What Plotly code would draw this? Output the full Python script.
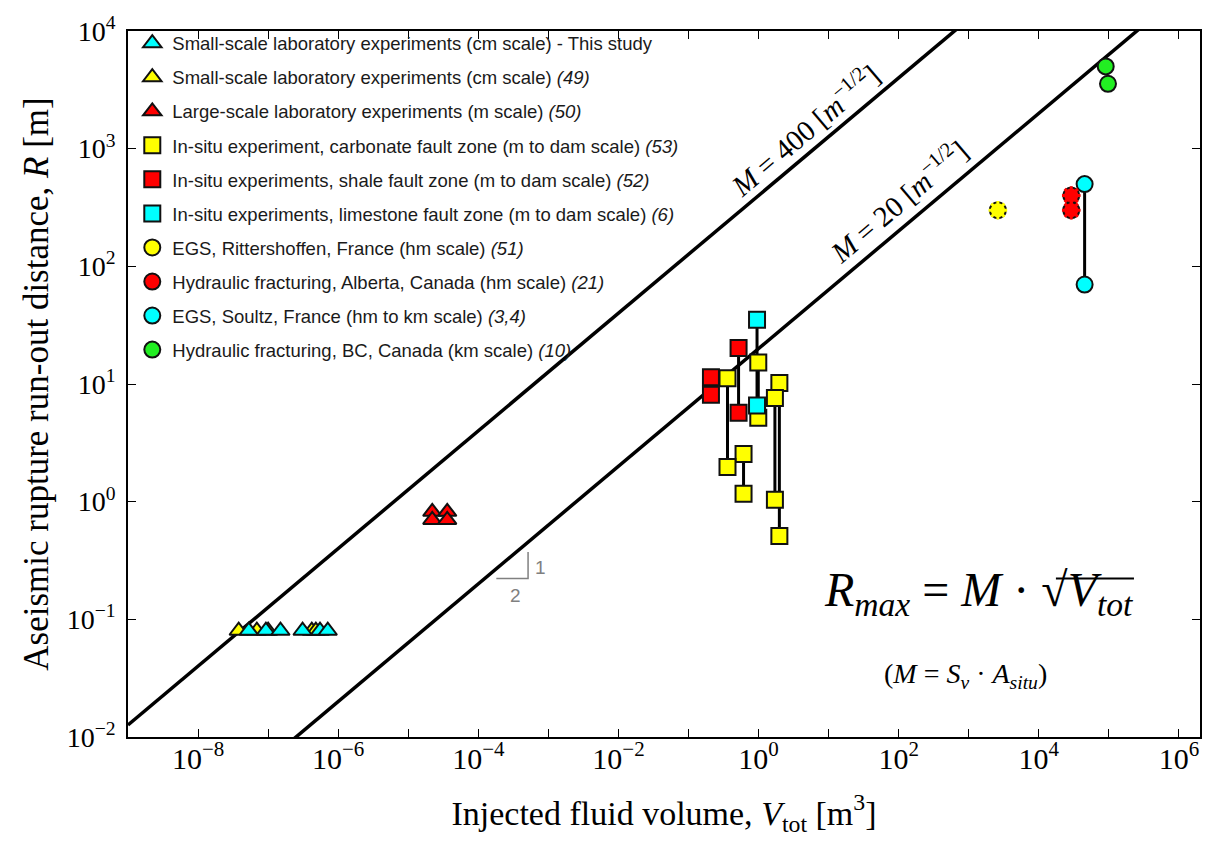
import plotly.graph_objects as go

# ---------------- data ----------------
this_study_V = [5.3e-8, 9.3e-8, 1.5e-7, 3.1e-7, 5.5e-7, 7.1e-7]
this_study_R = [0.08, 0.08, 0.08, 0.08, 0.08, 0.08]

lab49_V = [3.8e-8, 6.9e-8, 1.0e-7, 4.2e-7, 4.8e-7]
lab49_R = [0.08, 0.08, 0.08, 0.08, 0.08]

lab50_V = [2.2e-5, 2.2e-5, 3.6e-5, 3.6e-5]
lab50_R = [0.82, 0.70, 0.82, 0.70]

carb_V = [0.36, 0.99, 0.61, 1.98, 1.71]
carb_R_high = [11.2, 15.2, 2.54, 10.2, 7.6]
carb_R_low = [1.97, 5.16, 1.17, 0.51, 1.04]

shale_V = [0.209, 0.518]
shale_R_high = [11.4, 20.2]
shale_R_low = [8.1, 5.69]

lime_V = [0.95]
lime_R_high = [35.2]
lime_R_low = [6.55]

ritter_V = [2600]
ritter_R = [300]

alberta_V = [2.9e4, 2.9e4]
alberta_R = [400, 300]

soultz_V = [4.5e4]
soultz_R_high = [500]
soultz_R_low = [70]

bc_V = [9.0e4, 9.7e4]
bc_R = [5000, 3560]

M_values = [400, 20]
M_label_pos = [(0.653, 3.165), (1.994, 2.56)]   # log10 positions of the line labels

x_range_log = [-9, 6.3]
y_range_log = [-2, 4]

# slope triangle (log10 coordinates)
slope_x_log = [-3.743, -3.29, -3.29]
slope_y_log = [-0.652, -0.652, -0.427]

labels = [
    "Small-scale laboratory experiments (cm scale) - This study",
    "Small-scale laboratory experiments (cm scale) <i>(49)</i>",
    "Large-scale laboratory experiments (m scale) <i>(50)</i>",
    "In-situ experiment, carbonate fault zone (m to dam scale) <i>(53)</i>",
    "In-situ experiments, shale fault zone (m to dam scale) <i>(52)</i>",
    "In-situ experiments, limestone fault zone (m to dam scale) <i>(6)</i>",
    "EGS, Rittershoffen, France (hm scale) <i>(51)</i>",
    "Hydraulic fracturing, Alberta, Canada (hm scale) <i>(21)</i>",
    "EGS, Soultz, France (hm to km scale) <i>(3,4)</i>",
    "Hydraulic fracturing, BC, Canada (km scale) <i>(10)</i>",
]

CYAN = "#00FFFF"
YELLOW = "#FFFF00"
RED = "#FF0000"
GREEN = "#22EE22"
EDGE = "#111111"
SERIF = "Liberation Serif, Times New Roman, serif"
SANS = "Liberation Sans, Arial, sans-serif"


def pair_xy(V, hi, lo):
    xs, ys = [], []
    for v, h, l in zip(V, hi, lo):
        xs += [v, v, None]
        ys += [h, l, None]
    return xs, ys


fig = go.Figure()

# model lines R = M * sqrt(V)
x_end = [10 ** x_range_log[0], 10 ** x_range_log[1]]
for M in M_values:
    fig.add_trace(go.Scatter(x=x_end, y=[M * v ** 0.5 for v in x_end], mode="lines",
                             line=dict(color="black", width=3.5), showlegend=False,
                             hoverinfo="skip"))

# slope triangle
fig.add_trace(go.Scatter(x=[10 ** v for v in slope_x_log], y=[10 ** v for v in slope_y_log],
                         mode="lines", line=dict(color="#808080", width=1.5),
                         showlegend=False, hoverinfo="skip"))

# connecting lines for pairs
lx, ly = [], []
for V, hi, lo in [(carb_V, carb_R_high, carb_R_low), (shale_V, shale_R_high, shale_R_low),
                  (lime_V, lime_R_high, lime_R_low), (soultz_V, soultz_R_high, soultz_R_low)]:
    a, b = pair_xy(V, hi, lo)
    lx += a
    ly += b
fig.add_trace(go.Scatter(x=lx, y=ly, mode="lines", line=dict(color="black", width=3),
                         showlegend=False, hoverinfo="skip"))


def mk(symbol, color, size, lw=2):
    return dict(symbol=symbol, color=color, size=size, line=dict(color=EDGE, width=lw))


def both(V, hi, lo):
    return list(V) + list(V), list(hi) + list(lo)


cx, cy = both(carb_V, carb_R_high, carb_R_low)
sx, sy = both(shale_V, shale_R_high, shale_R_low)
lmx, lmy = both(lime_V, lime_R_high, lime_R_low)
sox, soy = both(soultz_V, soultz_R_high, soultz_R_low)

traces = [
    # (x, y, marker, label index)
    (cx, cy, mk("square", YELLOW, 16), 3),
    (sx, sy, mk("square", RED, 16), 4),
    (lmx, lmy, mk("square", CYAN, 16), 5),
    (lab49_V, lab49_R, mk("triangle-up", YELLOW, 16), 1),
    (this_study_V, this_study_R, mk("triangle-up", CYAN, 16), 0),
    (lab50_V, lab50_R, mk("triangle-up", RED, 16), 2),
    (ritter_V, ritter_R, mk("circle", YELLOW, 16), 6),
    (alberta_V, alberta_R, mk("circle", RED, 16), 7),
    (sox, soy, mk("circle", CYAN, 16), 8),
    (bc_V, bc_R, mk("circle", GREEN, 16), 9),
]
for x, y, marker, li in traces:
    fig.add_trace(go.Scatter(x=x, y=y, mode="markers", marker=marker, name=labels[li],
                             legendrank=li + 1, legendgroup=f"g{li}", showlegend=True))

# dashed-looking outlines for Rittershoffen / Alberta
for V, R, col in [(ritter_V, ritter_R, YELLOW), (alberta_V, alberta_R, RED)]:
    fig.add_trace(go.Scatter(x=V, y=R, mode="markers",
                             marker=dict(symbol="asterisk-open", size=15.5, color=col,
                                         line=dict(color=col, width=3)),
                             showlegend=False, hoverinfo="skip"))


def sup(k):
    return str(k).replace("-", "\u2212")


xt = list(range(-9, 7))
yt = list(range(-2, 5))

axis_common = dict(type="log", ticks="inside", ticklen=8, tickwidth=1, tickcolor="black",
                   showline=True, linecolor="black", linewidth=1.5, mirror="ticks",
                   showgrid=False, zeroline=False)

fig.update_xaxes(range=x_range_log, tickvals=[10 ** k for k in xt],
                 ticktext=[f"10<sup>{sup(k)}</sup>" if k % 2 == 0 else "" for k in xt],
                 ticklabelstandoff=-6,
                 tickfont=dict(family=SERIF, size=30, color="black"),
                 title=dict(text="Injected fluid volume, <i>V</i><sub>tot</sub> [m<sup>3</sup>]",
                            font=dict(family=SERIF, size=34, color="black"), standoff=27),
                 **axis_common)
fig.update_yaxes(range=y_range_log, tickvals=[10 ** k for k in yt],
                 ticktext=[f"10<sup>{sup(k)}</sup>" for k in yt],
                 ticklabelstandoff=5,
                 tickfont=dict(family=SERIF, size=28, color="black"),
                 title=dict(text="Aseismic rupture run-out distance, <i>R</i> [m]",
                            font=dict(family=SERIF, size=35, color="black"), standoff=8),
                 **axis_common)

annotations = []
for M, (ax, ay) in zip(M_values, M_label_pos):
    annotations.append(dict(x=ax, y=ay, xref="x", yref="y", showarrow=False, textangle=-40.4,
                            text=f"<i>M</i> = {M} [<i>m</i><sup>\u22121/2</sup>]",
                            font=dict(family=SERIF, size=29, color="black"),
                            xanchor="center", yanchor="middle"))
annotations.append(dict(x=-3.119, y=-0.560, xref="x", yref="y", showarrow=False, text="1",
                        font=dict(family=SANS, size=19, color="#808080")))
annotations.append(dict(x=-3.476, y=-0.794, xref="x", yref="y", showarrow=False, text="2",
                        font=dict(family=SANS, size=19, color="#808080")))
annotations.append(dict(x=0.793, y=0.2045, xref="paper", yref="paper", showarrow=False,
                        text="<i>R</i><sub><i>max</i></sub> = <i>M</i> \u00b7 \u221a<i>V</i><sub><i>tot</i></sub>",
                        font=dict(family=SERIF, size=48, color="black"),
                        xanchor="center", yanchor="middle"))
annotations.append(dict(x=0.7816, y=0.0867, xref="paper", yref="paper", showarrow=False,
                        text="(<i>M</i> = <i>S</i><sub><i>\u03bd</i></sub> \u00b7 <i>A</i><sub><i>situ</i></sub>)",
                        font=dict(family=SERIF, size=28, color="black"),
                        xanchor="center", yanchor="middle"))

fig.update_layout(
    width=1215, height=843,
    margin=dict(l=128, r=15, t=21, b=106),
    paper_bgcolor="white", plot_bgcolor="white",
    annotations=annotations,
    shapes=[dict(type="line", xref="paper", yref="paper", x0=0.8656, x1=0.9384,
                 y0=0.2245, y1=0.2245, line=dict(color="black", width=2))],
    legend=dict(x=0.004, y=1.009, xanchor="left", yanchor="top", bgcolor="rgba(0,0,0,0)",
                borderwidth=0, tracegroupgap=7,
                font=dict(family=SANS, size=18.5, color="#1a1a1a")),
)

fig.write_html("out.html")
